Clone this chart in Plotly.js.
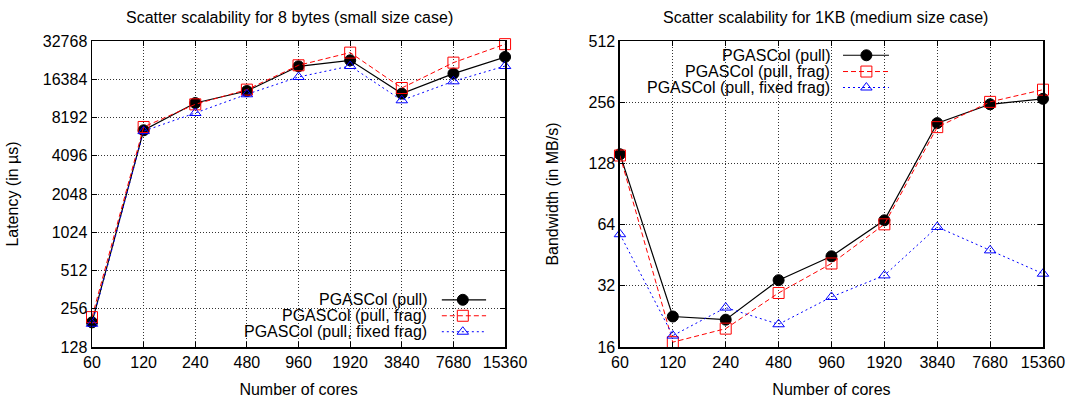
<!DOCTYPE html>
<html>
<head>
<meta charset="utf-8">
<script src="https://cdn.plot.ly/plotly-3.0.1.min.js"></script>
<style>html,body{margin:0;padding:0;background:#fff;}#chart{width:1069px;height:399px;}</style>
</head>
<body>
<div id="chart"></div>
<script>
// ---- data ----
const cores = ['60', '120', '240', '480', '960', '1920', '3840', '7680', '15360'];
const seriesNames = ['PGASCol (pull)', 'PGASCol (pull, frag)', 'PGASCol (pull, fixed frag)'];
const latPull  = [200, 6500, 10650, 13240, 20720, 23090, 12630, 18140, 24530];
const latFrag  = [220, 6900, 10400, 13580, 21100, 26550, 13980, 22140, 30950];
const latFixed = [195, 6400, 8890, 12480, 17070, 20820, 11190, 15780, 20820];
const bwPull  = [142, 22.6, 21.8, 34.1, 44.7, 67.2, 202, 250, 266];
const bwFrag  = [140, 16.9, 19.7, 29.5, 41.2, 64.2, 193, 257, 295];
const bwFixed = [57.4, 18.2, 25.0, 20.7, 28.2, 36.0, 62.3, 47.8, 36.7];
const latTicks = [128, 256, 512, 1024, 2048, 4096, 8192, 16384, 32768];
const bwTicks = [16, 32, 64, 128, 256, 512];
const titleLeft = 'Scatter scalability for 8 bytes (small size case)';
const titleRight = 'Scatter scalability for 1KB (medium size case)';
const xTitle = 'Number of cores';
const yTitleLeft = 'Latency (in µs)';
const yTitleRight = 'Bandwidth (in MB/s)';

// ---- styles ----
const FONT = 'Liberation Sans, Arial, Helvetica, sans-serif';
const FS = 16;
const styles = [
  {color: '#000000', dash: 'solid', symbol: 'circle', size: 11, width: 1.2},
  {color: '#ff0000', dash: '5px,3px', symbol: 'square-open', size: 11, width: 1},
  {color: '#0000ff', dash: '2px,3px', symbol: 'triangle-up-open', size: 10, width: 1}
];

const W = 1069, H = 399;
const M = {l: 91.5, r: 25.5, t: 40.7, b: 51.7};
const PW = W - M.l - M.r, PH = H - M.t - M.b;
const px = v => (v - M.l) / PW;
const py = v => (H - M.b - v) / PH;

function mk(x, y, i, xa, ya) {
  const s = styles[i];
  return {
    x: x, y: y, type: 'scatter', mode: 'lines+markers', name: seriesNames[i],
    xaxis: xa, yaxis: ya, cliponaxis: false, showlegend: false,
    line: {color: s.color, dash: s.dash, width: s.width},
    marker: {symbol: s.symbol, size: s.size, color: s.color, line: {color: s.color, width: 1}}
  };
}

const data = [
  mk(cores, latPull, 0, 'x', 'y'),
  mk(cores, latFrag, 1, 'x', 'y'),
  mk(cores, latFixed, 2, 'x', 'y'),
  mk(cores, bwPull, 0, 'x2', 'y2'),
  mk(cores, bwFrag, 1, 'x2', 'y2'),
  mk(cores, bwFixed, 2, 'x2', 'y2')
];

const axisCommon = {
  showline: true, linecolor: '#000', linewidth: 1.5, mirror: 'allticks',
  ticks: 'inside', ticklen: 5, tickwidth: 1, tickcolor: '#000',
  showgrid: true, gridcolor: '#333', gridwidth: 1, griddash: '1px,2px',
  zeroline: false, tickfont: {family: FONT, size: FS, color: '#000'},
  fixedrange: true
};

function xaxis(dom, anchor, standoff) {
  return Object.assign({}, axisCommon, {
    domain: dom, anchor: anchor, type: 'category', range: [0, cores.length - 1],
    categoryorder: 'array', categoryarray: cores,
    title: {text: xTitle, font: {family: FONT, size: FS, color: '#000'}, standoff: standoff}
  });
}
function yaxis(anchor, ticks, title, standoff) {
  return Object.assign({}, axisCommon, {
    domain: [0, 1], anchor: anchor, type: 'log',
    range: [Math.log10(ticks[0]), Math.log10(ticks[ticks.length - 1])],
    tickvals: ticks, ticktext: ticks.map(String),
    title: {text: title, font: {family: FONT, size: FS, color: '#000'}, standoff: standoff}
  });
}

const leftDom = [0, px(505)];
const rightDom = [px(620), 1];

const shapes = [];
const annotations = [];

// panel titles
annotations.push({xref: 'paper', yref: 'paper', x: px(289), y: py(17), text: titleLeft,
  showarrow: false, xanchor: 'center', yanchor: 'middle', font: {family: FONT, size: FS, color: '#000'}});
annotations.push({xref: 'paper', yref: 'paper', x: px(826), y: py(17), text: titleRight,
  showarrow: false, xanchor: 'center', yanchor: 'middle', font: {family: FONT, size: FS, color: '#000'}});

// opaque key boxes (hide grid under the key)
shapes.push({type: 'rect', xref: 'paper', yref: 'paper', layer: 'between',
  x0: px(225), x1: px(504), y0: py(346), y1: py(291.7), fillcolor: '#fff', line: {width: 0}});
shapes.push({type: 'rect', xref: 'paper', yref: 'paper', layer: 'between',
  x0: px(645), x1: px(893), y0: py(96.7), y1: py(42), fillcolor: '#fff', line: {width: 0}});

// key entries
function key(textRight, lineX0, lineX1, markX, rowsY) {
  rowsY.forEach((yy, i) => {
    const s = styles[i];
    annotations.push({xref: 'paper', yref: 'paper', x: px(textRight), y: py(yy), text: seriesNames[i],
      showarrow: false, xanchor: 'right', yanchor: 'middle', font: {family: FONT, size: FS, color: '#000'}});
    shapes.push({type: 'line', xref: 'paper', yref: 'paper', x0: px(lineX0), x1: px(lineX1), y0: py(yy), y1: py(yy),
      line: {color: s.color, width: s.width, dash: s.dash}});
    const r = s.size / 2;
    if (s.symbol === 'circle') {
      shapes.push({type: 'circle', xref: 'paper', yref: 'paper', x0: px(markX - r), x1: px(markX + r),
        y0: py(yy + r), y1: py(yy - r), fillcolor: s.color, line: {color: s.color, width: 1}});
    } else if (s.symbol === 'square-open') {
      shapes.push({type: 'rect', xref: 'paper', yref: 'paper', x0: px(markX - r), x1: px(markX + r),
        y0: py(yy + r), y1: py(yy - r), fillcolor: 'rgba(0,0,0,0)', line: {color: s.color, width: 1}});
    } else {
      const rt = r * 2 / Math.sqrt(3), rb = r / 2, rtop = r;
      const pts = [[markX - rt, yy + rb], [markX + rt, yy + rb], [markX, yy - rtop]];
      const path = 'M' + pts.map(p => px(p[0]) + ',' + py(p[1])).join(' L') + ' Z';
      shapes.push({type: 'path', xref: 'paper', yref: 'paper', path: path,
        fillcolor: 'rgba(0,0,0,0)', line: {color: s.color, width: 1}});
    }
  });
}
key(429.3, 441.7, 486, 462.7, [300, 316, 332]);
key(832.3, 843.3, 889.3, 866.7, [55, 71.3, 87.3]);

const layout = {
  width: W, height: H, margin: M,
  paper_bgcolor: '#fff', plot_bgcolor: '#fff', showlegend: false,
  font: {family: FONT, size: FS, color: '#000'},
  xaxis: xaxis(leftDom, 'y', 14),
  yaxis: yaxis('x', latTicks, yTitleLeft, 20),
  xaxis2: xaxis(rightDom, 'y2', 14),
  yaxis2: yaxis('x2', bwTicks, yTitleRight, 26),
  shapes: shapes, annotations: annotations
};

Plotly.newPlot('chart', data, layout, {displayModeBar: false, staticPlot: true});
</script>
</body>
</html>
